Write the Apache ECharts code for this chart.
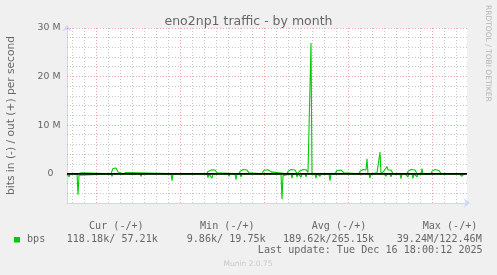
<!DOCTYPE html>
<html><head><meta charset="utf-8">
<script src="https://cdn.jsdelivr.net/npm/echarts@6/dist/echarts.min.js"></script>
<style>html,body{margin:0;padding:0;background:#f0f0f0;}#c{width:497px;height:275px;}</style>
</head><body><div id="c"></div>
<script>
// x: hours since graph start (2-hour RRD samples), y: Mbit/s
const outTraffic = [
 [0,0],[22,0],[24,0.2],[30,0.2],[32,0],
 [88,0],[90,0.6],[92,1.1],[94,1.2],[98,1.2],[100,1.1],[102,0.4],[104,0],
 [112,0],[114,0.25],[118,0.25],[120,0],
 [224,0],[226,0.2],[228,0],
 [280,0],[282,0.5],[284,0.8],[286,0.85],[290,0.85],[294,0.8],[296,0.8],[298,0.6],[300,0.2],[302,0],
 [344,0],[346,0.5],[348,0.8],[352,0.9],[356,0.9],[360,0.8],[362,0.5],[364,0.2],[366,0],
 [390,0],[392,0.4],[394,0.75],[398,0.85],[402,0.85],[406,0.7],[408,0.4],[410,0],
 [440,0],[442,0.5],[444,0.8],[448,0.9],[452,0.9],[456,0.8],[458,0.4],[460,0],
 [464,0],[466,0.6],[468,0.85],[472,0.9],[478,0.85],[480,0.7],[482,0.3],[484,0],
 [486,0],[488,26.9],[490,0],
 [536,0],[538,0.4],[540,0.7],[544,0.8],[548,0.8],[552,0.6],[554,0.2],[556,0],
 [584,0],[586,0.5],[588,0.8],[592,0.9],[596,0.85],[598,0.8],[600,3.1],[602,0],
 [610,0],[612,0.2],[620,0.2],[622,0],
 [624,0],[626,4.5],[628,0],
 [632,0],[634,0.6],[636,0.9],[638,0.9],[640,1.5],[642,0.8],[644,0.9],[648,0.8],[650,0.5],[652,0],
 [680,0],[682,0.5],[684,0.8],[688,0.9],[692,0.9],[696,0.8],[698,0.5],[700,0],
 [708,0],[710,1.1],[712,0],
 [728,0],[730,0.5],[732,0.8],[736,0.9],[740,0.9],[744,0.7],[746,0.3],[748,0],
 [796,0]
];
const inTraffic = [
 [0,0],[2,0],[4,0.6],[6,0],
 [20,0],[22,4.3],[24,0.3],[26,0],
 [88,0],[90,0.5],[92,0],
 [132,0],[134,0.4],[136,0],
 [146,0],[148,0.5],[150,0],
 [156,0],[158,0.3],[160,0],
 [178,0],[180,0.4],[182,0],
 [190,0],[192,0.4],[194,0],
 [208,0],[210,1.4],[212,0],
 [260,0],[262,0.3],[264,0],
 [280,0],[282,0.8],[284,0],[288,0],[290,0.9],[292,0],
 [308,0],[310,0.4],[312,0],
 [322,0],[324,0.5],[326,0],
 [336,0],[338,1.2],[340,0],
 [346,0],[348,0.6],[350,0],
 [428,0],[430,5.2],[432,0.4],[434,0],
 [448,0],[450,0.9],[452,0],
 [458,0],[460,0.6],[462,0],
 [466,0],[468,0.7],[470,0],
 [476,0],[478,0.6],[480,0],
 [496,0],[498,0.9],[500,0],
 [504,0],[506,0.5],[508,0],
 [524,0],[526,1.4],[528,0],[530,0.4],[532,0],
 [604,0],[606,0.9],[608,0],
 [636,0],[638,0.5],[640,0],
 [646,0],[648,0.6],[650,0],
 [660,0],[662,0.3],[664,0],
 [666,0],[668,1.0],[670,0],
 [672,0],[674,0.4],[676,0],
 [680,0],[682,0.6],[684,0],
 [690,0],[692,0.95],[694,0],
 [698,0],[700,0.6],[702,0],
 [784,0],[786,0.3],[790,0.5],[792,0.3],[794,0],
 [796,0]
];
const firstMidnight = 10;        // hours after graph start
const weekStarts = [58, 226, 394, 562, 730];
const weekLabels = ['Week 47', 'Week 48', 'Week 49', 'Week 50'];
const weekLabelAt = [142, 310, 478, 646];
const yMin = -6, yMax = 30, yMinorStep = 2, yLabelStep = 10;
const legendHeader = ['Cur (-/+)', 'Min (-/+)', 'Avg (-/+)', 'Max (-/+)'];
const legendValues = ['118.18k/ 57.21k', '9.86k/ 19.75k', '189.62k/265.15k', '39.24M/122.46M'];
const legendName = 'bps';
const lastUpdate = 'Last update: Tue Dec 16 18:00:12 2025';
const titleText = 'eno2np1 traffic - by month';
const yName = 'bits in (-) / out (+) per second';

const GREEN = '#00cc00', FONT = '#666666', AXIS = '#CFD6F8';
const GRID = 'rgba(143,143,143,0.5)', MGRID = 'rgba(224,80,62,0.5)';
const SANS = 'DejaVu Sans';

const dayHours = [];
for (let h = firstMidnight; h < 800; h += 24) dayHours.push(h);
const yGridValues = [];
for (let v = yMin + yMinorStep; v <= yMax; v += yMinorStep) yGridValues.push(v);

const crisp = c => Math.round(c - 0.5) + 0.5;
function vGrid(params, api) {
  const cs = params.coordSys;
  const h = api.value(0);
  const x = crisp(api.coord([h, 0])[0]);
  return {type: 'line', silent: true,
    shape: {x1: x, y1: cs.y, x2: x, y2: cs.y + cs.height},
    style: {stroke: weekStarts.includes(h) ? MGRID : GRID, lineWidth: 1, lineDash: [1, 2]}};
}
function hGrid(params, api) {
  const cs = params.coordSys;
  const v = api.value(1);
  const yRaw = api.coord([0, v])[1];
  if (v === 0) {
    return {type: 'line', silent: true,
      shape: {x1: cs.x, y1: yRaw, x2: cs.x + cs.width, y2: yRaw},
      style: {stroke: '#000000', lineWidth: 1.6}};
  }
  const y = crisp(yRaw);
  return {type: 'line', silent: true,
    shape: {x1: cs.x, y1: y, x2: cs.x + cs.width, y2: y},
    style: {stroke: v % yLabelStep === 0 ? MGRID : GRID, lineWidth: 1, lineDash: [1, 2]}};
}
const weekLabelLines = weekLabelAt.map((h, i) => ({xAxis: h, label: {formatter: weekLabels[i]}}));

const chart = echarts.init(document.getElementById('c'), null, {renderer: 'canvas'});
const legendHeaderX = [89, 200, 311.7, 422.7];
const legendValueX = [66.7, 186.7, 283, 396.7];
const MONOFONT = '10.1px "DejaVu Sans Mono"';
const graphics = [
  {type: 'text', x: 11.5, y: 115.5, rotation: Math.PI / 2,
   style: {text: yName, fill: FONT, font: '10.67px "DejaVu Sans"', textAlign: 'center', textVerticalAlign: 'middle', align: 'center', verticalAlign: 'middle'}},
  {type: 'text', x: 487.5, y: 5, rotation: -Math.PI / 2,
   style: {text: 'RRDTOOL / TOBI OETIKER', fill: '#b4b4b4', font: '7.5px "DejaVu Sans"', textAlign: 'left', textVerticalAlign: 'middle', align: 'left', verticalAlign: 'middle'}},
  {type: 'rect', shape: {x: 14, y: 237, width: 6, height: 5.5}, style: {fill: GREEN}},
  {type: 'text', x: 27, y: 239.7, style: {text: legendName, fill: FONT, font: MONOFONT, textVerticalAlign: 'middle', verticalAlign: 'middle'}},
  {type: 'text', x: 482.7, y: 250.5, style: {text: lastUpdate, fill: FONT, font: MONOFONT, textAlign: 'right', align: 'right', textVerticalAlign: 'middle', verticalAlign: 'middle'}},
  {type: 'text', x: 248, y: 264.3, style: {text: 'Munin 2.0.75', fill: '#c8c8c8', font: '7.5px "DejaVu Sans"', textAlign: 'center', align: 'center', textVerticalAlign: 'middle', verticalAlign: 'middle'}}
];
legendHeader.forEach((t, i) => graphics.push({type: 'text', x: legendHeaderX[i], y: 226.5,
  style: {text: t, fill: FONT, font: MONOFONT, textVerticalAlign: 'middle', verticalAlign: 'middle'}}));
legendValues.forEach((t, i) => graphics.push({type: 'text', x: legendValueX[i], y: 239.7,
  style: {text: t, fill: FONT, font: MONOFONT, textVerticalAlign: 'middle', verticalAlign: 'middle'}}));

chart.setOption({
  animation: false,
  backgroundColor: '#f0f0f0',
  title: {text: titleText, left: 'center', top: 10,
    textStyle: {fontFamily: SANS, fontSize: 12.5, fontWeight: 'normal', color: FONT}},
  grid: {left: 67, right: 30, top: 28, bottom: 72, show: true, backgroundColor: '#ffffff', borderWidth: 0},
  xAxis: {type: 'value', min: 0, max: 800,
    axisLine: {show: true, onZero: false, lineStyle: {color: AXIS, width: 1}, symbol: ['none', 'arrow'], symbolSize: [7, 6], symbolOffset: [0, 3]},
    axisTick: {show: false}, axisLabel: {show: false}, splitLine: {show: false}},
  yAxis: {type: 'value', min: yMin, max: yMax, interval: yMinorStep,
    axisLine: {show: true, onZero: false, lineStyle: {color: AXIS, width: 1}, symbol: ['none', 'arrow'], symbolSize: [7, 6], symbolOffset: [0, 3]},
    axisTick: {show: false},
    axisLabel: {margin: 6.5, color: FONT, fontFamily: SANS, fontSize: 9.33,
      formatter: v => v % yLabelStep !== 0 ? '' : (v === 0 ? '{z|0}' : v + ' M'),
      rich: {z: {padding: [0, 7, 0, 0], color: FONT, fontFamily: SANS, fontSize: 9.33}}},
    splitLine: {show: false}},
  graphic: graphics,
  series: [
    {type: 'custom', z: 1, silent: true, renderItem: vGrid, clip: false,
     data: dayHours.map(h => [h, 0])},
    {type: 'custom', z: 1, silent: true, renderItem: hGrid, clip: false,
     data: yGridValues.filter(v => v !== 0).map(v => [0, v])},
    {type: 'line', data: [], z: 1, silent: true,
     markLine: {silent: true, symbol: 'none', animation: false,
       lineStyle: {opacity: 0, width: 0},
       label: {show: true, position: 'start', distance: 4, color: FONT, fontFamily: SANS, fontSize: 9.33},
       data: weekLabelLines}},
    {name: 'in', type: 'line', z: 2, showSymbol: false, symbol: 'none',
     lineStyle: {color: GREEN, width: 1.1}, data: inTraffic.map(([t, v]) => [t, -v])},
    {name: 'out', type: 'line', z: 2, showSymbol: false, symbol: 'none',
     lineStyle: {color: GREEN, width: 1.1}, data: outTraffic},
    {type: 'custom', z: 5, silent: true, renderItem: hGrid, clip: false,
     data: [[0, 0]]}
  ]
});
</script></body></html>
